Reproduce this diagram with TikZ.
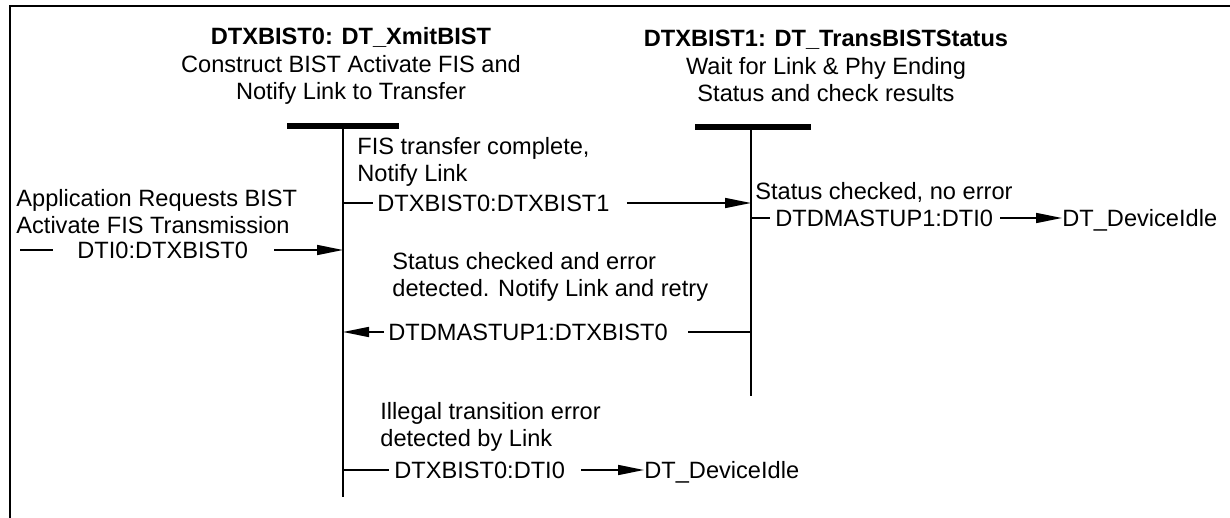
\documentclass[tikz,border=0pt]{standalone}
\usepackage{fontspec}
\setmainfont{Liberation Sans}
\usetikzlibrary{arrows.meta,positioning}

\begin{document}
\begin{tikzpicture}[
  x=0.5pt,y=-0.5pt,
  font=\fontsize{11.8}{13.6}\selectfont,
  frame/.style={line width=.75pt},
  stateline/.style={line width=.85pt},
  statebar/.style={line width=2.6pt},
  title/.style={align=center,inner sep=0pt},
  lbl/.style={align=left,anchor=west,inner sep=0pt},
  row/.style={anchor=west,inner sep=0pt,text height=8.5pt,text depth=0pt},
  stub/.style={line width=.8pt},
  trans/.style={line width=.8pt,-{Triangle[length=13pt,width=5pt]}}
]
\useasboundingbox (0,0) rectangle (1230,518);
\draw[frame] (10,518) -- (10,6) -- (1230,6);

% states
\node[title] (xmit) at (351,66) {\textbf{DTXBIST0: DT\_XmitBIST}\\Construct BIST Activate FIS and\\Notify Link to Transfer};
\coordinate (xmitTop) at (343,126);
\coordinate (xmitBot) at (343,497);
\draw[statebar] ([xshift=-28pt]xmitTop) -- ([xshift=28pt]xmitTop);
\draw[stateline] (xmitTop) -- (xmitBot);

\node[title] (trans) at (826,66) {\textbf{DTXBIST1: DT\_TransBISTStatus}\\Wait for Link \& Phy Ending\\Status and check results};
\coordinate (transTop) at (751,127);
\coordinate (transBot) at (751,396);
\draw[statebar] ([xshift=-28pt]transTop) -- ([xshift=30pt]transTop);
\draw[stateline] (transTop) -- (transBot);

% entry
\node[lbl] (appreq) at (16,211.5) {Application Requests BIST\\Activate FIS Transmission};
\node[row] (dti0x0) at (77,250) {DTI0:DTXBIST0};
\coordinate (dti0in) at (20,250);
\draw[stub] (dti0in) -- ([xshift=-12pt]dti0x0.west);
\draw[trans] ([xshift=13pt]dti0x0.east) -- (xmitTop |- dti0x0);

% xmit -> trans
\node[lbl] (fisdone) at (357,161.5) {FIS transfer complete,\\Notify Link};
\node[row] (x0x1) at (377,203) {DTXBIST0:DTXBIST1};
\draw[stub] (xmitTop |- x0x1) -- ([xshift=-2pt]x0x1.west);
\draw[trans] ([xshift=8.5pt]x0x1.east) -- (transTop |- x0x1);

% trans -> idle
\node[lbl] (nochk) at (755,192) {Status checked, no error};
\node[row] (dmai0) at (775,218) {DTDMASTUP1:DTI0};
\draw[stub] (transTop |- dmai0) -- ([xshift=-2.5pt]dmai0.west);
\node[row] (idle1) at (1062,218) {DT\_DeviceIdle};
\draw[trans] ([xshift=3.5pt]dmai0.east) -- (idle1.west);

% trans -> xmit (retry)
\node[lbl] (errchk) at (392,276.5) {Status checked and error\\detected. Notify Link and retry};
\node[row] (dmax0) at (388,332) {DTDMASTUP1:DTXBIST0};
\draw[stub] (transTop |- dmax0) -- ([xshift=10pt]dmax0.east);
\draw[trans] ([xshift=-2pt]dmax0.west) -- (xmitTop |- dmax0);

% xmit -> idle
\node[lbl] (illegal) at (380,426.5) {Illegal transition error\\detected by Link};
\node[row] (x0i0) at (394,470) {DTXBIST0:DTI0};
\draw[stub] (xmitTop |- x0i0) -- ([xshift=-2.5pt]x0i0.west);
\node[row] (idle0) at (644,470) {DT\_DeviceIdle};
\draw[trans] ([xshift=8pt]x0i0.east) -- (idle0.west);
\end{tikzpicture}
\end{document}
